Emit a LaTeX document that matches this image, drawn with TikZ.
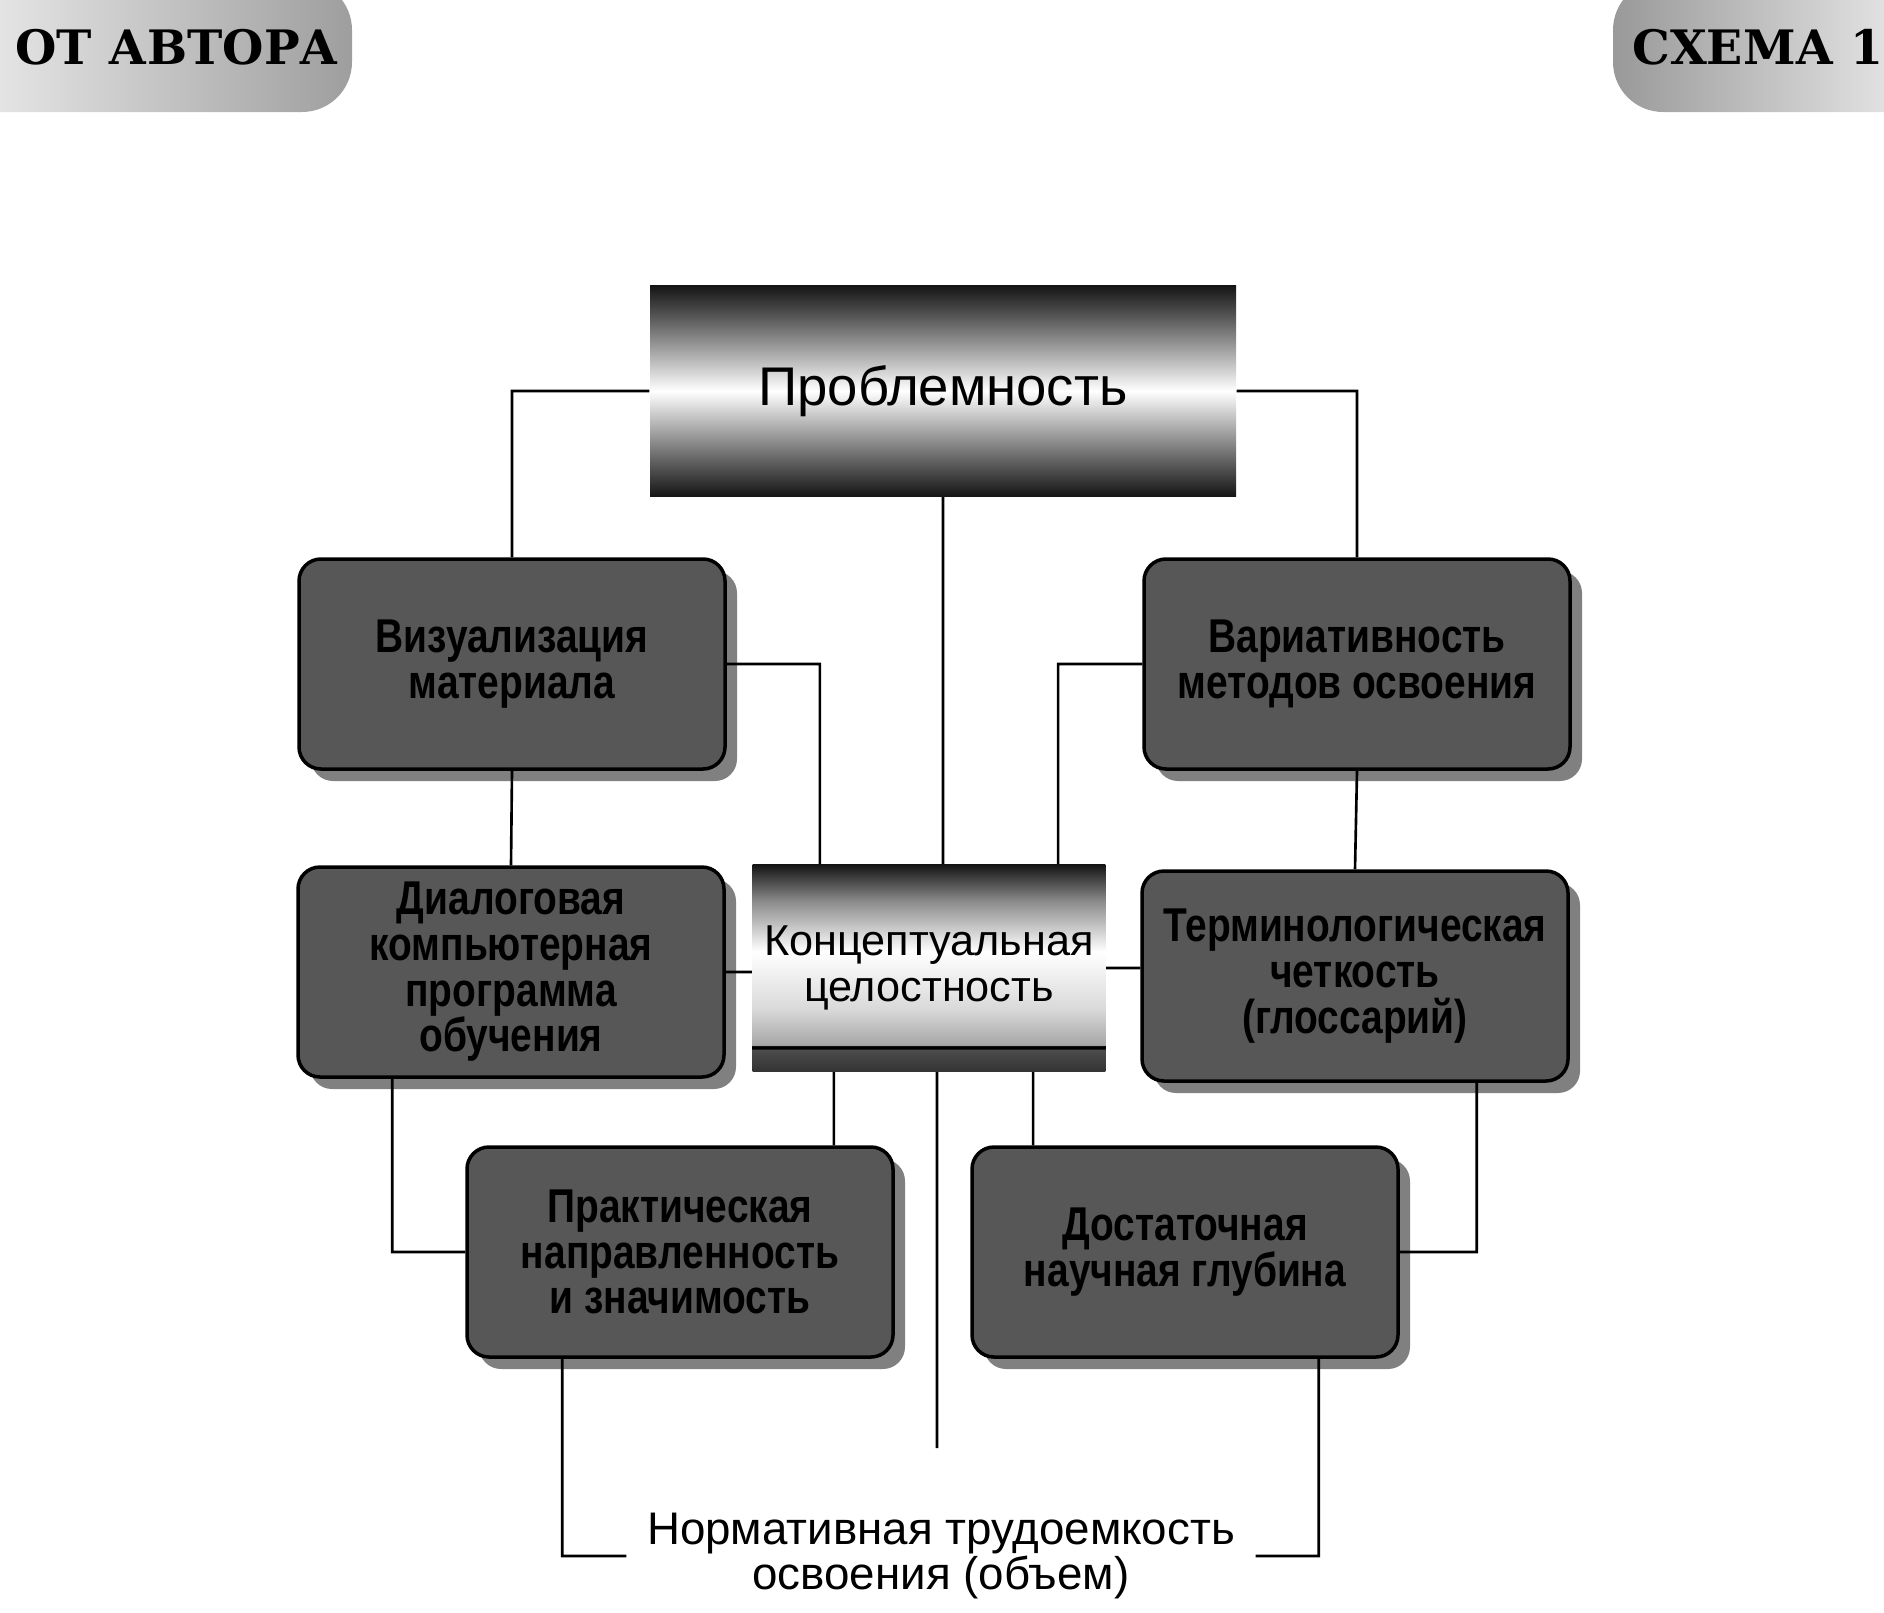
\documentclass[tikz,border=0pt]{standalone}
\usepackage{fontspec}
\setmainfont{Liberation Sans}
\newfontfamily\boxfont[FakeStretch=0.82]{Liberation Sans}
\newfontfamily\headfont{DejaVu Serif}
\usetikzlibrary{shadows}
\pgfdeclareverticalshading{probshade}{100bp}{color(0bp)=(black!92); color(25bp)=(black!92);
  color(34bp)=(black!60); color(50bp)=(white); color(66bp)=(black!60);
  color(75bp)=(black!92); color(100bp)=(black!92)}
\pgfdeclareverticalshading{koncshade}{100bp}{color(0bp)=(black!80); color(25bp)=(black!80);
  color(30.3bp)=(black!70); color(30.5bp)=(black); color(31.2bp)=(black); color(31.4bp)=(black!35);
  color(40bp)=(black!15); color(54bp)=(white); color(66bp)=(black!45);
  color(75bp)=(black!92); color(100bp)=(black!92)}

\begin{document}
\begin{tikzpicture}[x=0.1mm,y=-0.1mm,
  tab/.style = {font=\headfont\bfseries\fontsize{13.5}{14}\selectfont},
  top/.style = {shade,shading=probshade,minimum width=58.6mm,minimum height=21.1mm,
        font=\fontsize{15.5}{16}\selectfont},
  core/.style = {shade,shading=koncshade,minimum width=34.8mm,minimum height=20.7mm,
        align=center,font=\fontsize{12.3}{13}\selectfont},
  box/.style = {draw,line width=1pt,rounded corners=2.2mm,fill=black!66,
        minimum width=42.6mm,minimum height=21mm,align=center,
        drop shadow={shadow xshift=1.2mm,shadow yshift=-1.2mm,fill=black!50,opacity=1},
        font=\boxfont\bfseries\fontsize{13.5}{13}\selectfont},
  plain/.style = {align=center,inner sep=2mm,font=\fontsize{13}{13}\selectfont}]
 \useasboundingbox (0,0) rectangle (1884,1612);
 % header tabs
 \shade[left color=black!6,right color=black!38,rounded corners=5mm] (-60,-20) rectangle (352,112);
 \shade[left color=black!40,right color=black!5,rounded corners=5mm] (1613,-20) rectangle (1950,112);
 \node[tab] (h1) at (177,47) {ОТ АВТОРА};
 \node[tab] (h2) at (1758,47) {СХЕМА 1};
 % boxes
 \node[top] (b1) at (943,391) {Проблемность};
 \node[box] (b2) at (512,664) {Визуализация\\материала};
 \node[box] (b3) at (1357,664) {Вариативность\\методов освоения};
 \node[box] (b4) at (511,972) {Диалоговая\\компьютерная\\программа\\обучения};
 \node[core] (b5) at (929,968) {Концептуальная\\целостность};
 \node[box] (b6) at (1355,976) {Терминологическая\\четкость\\(глоссарий)};
 \node[box] (b7) at (680,1252) {Практическая\\направленность\\и значимость};
 \node[box] (b8) at (1185,1252) {Достаточная\\научная глубина};
 \node[plain] (b9) at (941,1556) {Нормативная трудоемкость\\освоения (объем)};
 \coordinate (k1) at ([xshift=8.2mm]b5.south west);
 \coordinate (k2) at ([xshift=-7.3mm]b5.south east);
 \coordinate (k4) at ([xshift=9.6mm]b4.south west);
 \coordinate (k6) at ([xshift=-9.3mm]b6.south east);
 \coordinate (k7) at ([xshift=9.7mm]b7.south west);
 \coordinate (k8) at ([xshift=-8.1mm]b8.south east);
 \coordinate (e1) at (937,1448);
 \begin{scope}[line width=0.75pt]
  \draw
  (b1.west) -| (b2.north)
  (b1.east) -| (b3.north)
  (b1.south) -- (b1.south |- b5.north)
  (b2.east) -| ([xshift=6.8mm]b5.north west)
  (b3.west) -| ([xshift=-4.8mm]b5.north east)
  (b2.south) -- (b4.north)
  (b3.south) -- (b6.north)
  (b4.east) -- (b4.east -| b5.west)
  (b5.east) -- (b5.east -| b6.west)
  (k1) -- (k1 |- b7.north)
  (k2) -- (k2 |- b8.north)
  (b5.south -| e1) -- (e1)
  (k4) |- (b7.west)
  (k6) |- (b8.east)
  (k7) |- (b9.west)
  (k8) |- (b9.east);
 \end{scope}
\end{tikzpicture}
\end{document}
